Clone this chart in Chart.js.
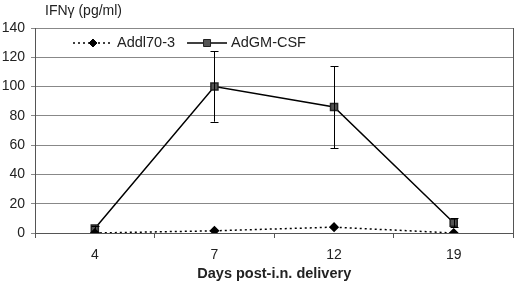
<!DOCTYPE html>
<html><head><meta charset="utf-8">
<script src="https://cdn.jsdelivr.net/npm/chart.js@4/dist/chart.umd.min.js"></script>
<style>html,body{margin:0;padding:0;background:#fff}#wrap{width:520px;height:290px}</style>
</head><body><div id="wrap"><canvas id="c" width="520" height="290"></canvas></div>
<script>
const categories = ['4', '7', '12', '19'];
const addl703 = [0, 1.5, 4, 0];
const adgmcsf = [3, 100, 86, 7];
const adgmcsfErr = [2, 24, 28, 3];
const yTicks = [0, 20, 40, 60, 80, 100, 120, 140];
const yLabel = 'IFNγ (pg/ml)';
const xLabel = 'Days post-i.n. delivery';

const FONT = '"Liberation Sans", Arial, sans-serif';

const errorBars = {
  id: 'errorBars',
  afterDatasetsDraw(chart) {
    const ctx = chart.ctx, x = chart.scales.x, y = chart.scales.y;
    ctx.save();
    ctx.strokeStyle = '#000'; ctx.lineWidth = 1;
    adgmcsf.forEach((v, i) => {
      const e = adgmcsfErr[i]; if (!e) return;
      const px = Math.round(x.getPixelForValue(i)) + 0.5;
      const t = y.getPixelForValue(v + e), b = y.getPixelForValue(v - e);
      ctx.beginPath();
      ctx.moveTo(px, t); ctx.lineTo(px, b);
      ctx.moveTo(px - 4, Math.round(t) + 0.5); ctx.lineTo(px + 4, Math.round(t) + 0.5);
      ctx.moveTo(px - 4, Math.round(b) + 0.5); ctx.lineTo(px + 4, Math.round(b) + 0.5);
      ctx.stroke();
    });
    ctx.restore();
  }
};

const frame = {
  id: 'frame',
  beforeDatasetsDraw(chart) {
    const a = chart.chartArea, ctx = chart.ctx;
    ctx.save();
    ctx.strokeStyle = '#555'; ctx.lineWidth = 1;
    ctx.beginPath();
    ctx.moveTo(Math.round(a.right) - 0.5, a.top); ctx.lineTo(Math.round(a.right) - 0.5, a.bottom);
    ctx.stroke();
    ctx.restore();
  },
  afterDraw(chart) {
    const ctx = chart.ctx, a = chart.chartArea;
    ctx.save();
    ctx.fillStyle = '#222';
    ctx.font = '14px ' + FONT;
    ctx.textBaseline = 'middle';
    ctx.textAlign = 'left';
    ctx.fillText(yLabel, a.left + 10, 11);
    // legend inside plot
    ctx.font = '14.5px ' + FONT;
    const ly = a.top + 15;
    let lx = a.left + 38;
    chart.data.datasets.forEach((ds) => {
      ctx.save();
      ctx.strokeStyle = ds.borderColor; ctx.lineWidth = ds.borderWidth;
      ctx.setLineDash(ds.borderDash || []);
      ctx.beginPath(); ctx.moveTo(lx, ly); ctx.lineTo(lx + 40, ly); ctx.stroke();
      ctx.setLineDash([]);
      const cx = lx + 20;
      ctx.fillStyle = ds.pointBackgroundColor; ctx.strokeStyle = ds.pointBorderColor; ctx.lineWidth = 1;
      const r = ds.pointRadius;
      ctx.beginPath();
      if (ds.pointStyle === 'rectRot') {
        ctx.moveTo(cx, ly - r); ctx.lineTo(cx + r, ly); ctx.lineTo(cx, ly + r); ctx.lineTo(cx - r, ly); ctx.closePath();
      } else {
        ctx.rect(cx - r * 0.7, ly - r * 0.7, r * 1.4, r * 1.4);
      }
      ctx.fill(); ctx.stroke();
      ctx.restore();
      ctx.fillStyle = '#222';
      ctx.fillText(ds.label, lx + 44, ly);
      lx += 44 + ctx.measureText(ds.label).width + 12;
    });
    ctx.restore();
  }
};

new Chart(document.getElementById('c'), {
  type: 'line',
  data: {
    labels: categories,
    datasets: [
      {
        label: 'Addl70-3', data: addl703,
        borderColor: '#000', borderWidth: 1.5, borderDash: [2, 3],
        pointStyle: 'rectRot', pointRadius: 4, pointBackgroundColor: '#000', pointBorderColor: '#000',
        tension: 0
      },
      {
        label: 'AdGM-CSF', data: adgmcsf,
        borderColor: '#000', borderWidth: 1.5,
        pointStyle: 'rect', pointRadius: 5, pointBackgroundColor: '#555', pointBorderColor: '#222',
        tension: 0
      }
    ]
  },
  options: {
    responsive: false, animation: false,
    layout: { padding: { top: 28, right: 1, left: 0, bottom: 0 } },
    plugins: { legend: { display: false }, title: { display: false }, tooltip: { enabled: false } },
    scales: {
      x: {
        offset: true,
        grid: { offset: true, drawOnChartArea: false, drawTicks: true, tickLength: 5, color: '#555' },
        border: { color: '#555' },
        ticks: { color: '#222', font: { family: FONT, size: 14 }, padding: 9 },
        title: { display: true, text: xLabel, color: '#222', font: { family: FONT, size: 14.5, weight: 'bold' }, padding: { top: 0, bottom: 7 } },
        afterFit(s) { s.height = 57; }
      },
      y: {
        min: 0, max: 140,
        afterBuildTicks(s) { s.ticks = yTicks.map(v => ({ value: v })); },
        grid: { color: '#888', tickLength: 4 },
        border: { color: '#555' },
        ticks: { color: '#222', font: { family: FONT, size: 14 }, padding: 6 },
        afterFit(s) { s.width = 35; }
      }
    }
  },
  plugins: [errorBars, frame]
});
</script>
</body></html>
